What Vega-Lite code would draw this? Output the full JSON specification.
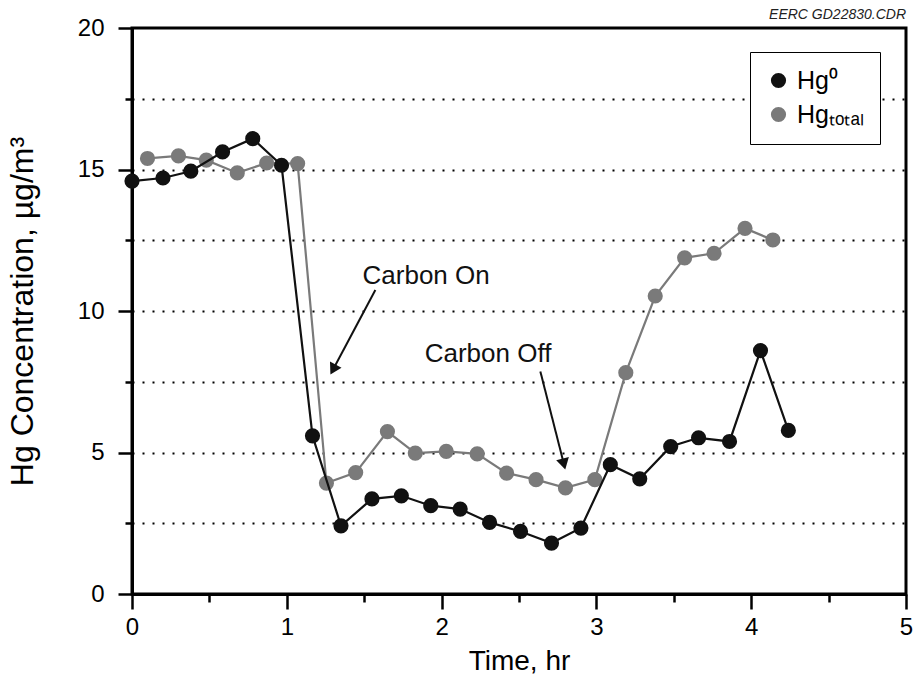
{
  "$schema": "https://vega.github.io/schema/vega-lite/v6.json",
  "autosize": {"type": "none"},
  "width": 774,
  "height": 566,
  "padding": {"left": 132, "top": 28, "right": 11, "bottom": 89},
  "background": "white",
  "title": {"text": "EERC GD22830.CDR", "anchor": "end", "frame": "group", "fontSize": 14, "fontStyle": "italic", "fontWeight": "normal", "font": "Liberation Sans", "color": "#222222", "offset": 6, "dy": 12},
  "config": {
    "font": "Liberation Sans",
    "view": {"stroke": "black", "strokeWidth": 3},
    "axis": {"labelColor": "black", "titleColor": "black", "titleFontWeight": "normal", "domainColor": "black", "domainWidth": 3, "tickColor": "black", "tickWidth": 2.5, "labelFlush": false, "labelOverlap": false}
  },
  "datasets": {
    "hg": [
      {"series": "Hgₜₒₜₐₗ", "t": 0.10, "v": 15.39},
      {"series": "Hgₜₒₜₐₗ", "t": 0.30, "v": 15.48},
      {"series": "Hgₜₒₜₐₗ", "t": 0.48, "v": 15.33},
      {"series": "Hgₜₒₜₐₗ", "t": 0.68, "v": 14.88},
      {"series": "Hgₜₒₜₐₗ", "t": 0.87, "v": 15.23},
      {"series": "Hgₜₒₜₐₗ", "t": 1.07, "v": 15.21},
      {"series": "Hgₜₒₜₐₗ", "t": 1.256, "v": 3.92},
      {"series": "Hgₜₒₜₐₗ", "t": 1.445, "v": 4.29},
      {"series": "Hgₜₒₜₐₗ", "t": 1.65, "v": 5.74},
      {"series": "Hgₜₒₜₐₗ", "t": 1.83, "v": 4.98},
      {"series": "Hgₜₒₜₐₗ", "t": 2.03, "v": 5.04},
      {"series": "Hgₜₒₜₐₗ", "t": 2.23, "v": 4.95},
      {"series": "Hgₜₒₜₐₗ", "t": 2.42, "v": 4.27},
      {"series": "Hgₜₒₜₐₗ", "t": 2.61, "v": 4.04},
      {"series": "Hgₜₒₜₐₗ", "t": 2.80, "v": 3.75},
      {"series": "Hgₜₒₜₐₗ", "t": 2.99, "v": 4.04},
      {"series": "Hgₜₒₜₐₗ", "t": 3.19, "v": 7.82},
      {"series": "Hgₜₒₜₐₗ", "t": 3.38, "v": 10.53},
      {"series": "Hgₜₒₜₐₗ", "t": 3.57, "v": 11.88},
      {"series": "Hgₜₒₜₐₗ", "t": 3.76, "v": 12.04},
      {"series": "Hgₜₒₜₐₗ", "t": 3.96, "v": 12.92},
      {"series": "Hgₜₒₜₐₗ", "t": 4.14, "v": 12.51},
      {"series": "Hg⁰", "t": 0.00, "v": 14.59},
      {"series": "Hg⁰", "t": 0.20, "v": 14.70},
      {"series": "Hg⁰", "t": 0.38, "v": 14.94},
      {"series": "Hg⁰", "t": 0.585, "v": 15.62},
      {"series": "Hg⁰", "t": 0.78, "v": 16.09},
      {"series": "Hg⁰", "t": 0.966, "v": 15.15},
      {"series": "Hg⁰", "t": 1.166, "v": 5.59},
      {"series": "Hg⁰", "t": 1.35, "v": 2.41},
      {"series": "Hg⁰", "t": 1.55, "v": 3.36},
      {"series": "Hg⁰", "t": 1.74, "v": 3.47},
      {"series": "Hg⁰", "t": 1.93, "v": 3.12},
      {"series": "Hg⁰", "t": 2.12, "v": 3.00},
      {"series": "Hg⁰", "t": 2.31, "v": 2.53},
      {"series": "Hg⁰", "t": 2.51, "v": 2.21},
      {"series": "Hg⁰", "t": 2.71, "v": 1.80},
      {"series": "Hg⁰", "t": 2.90, "v": 2.33},
      {"series": "Hg⁰", "t": 3.09, "v": 4.57},
      {"series": "Hg⁰", "t": 3.28, "v": 4.07},
      {"series": "Hg⁰", "t": 3.48, "v": 5.21},
      {"series": "Hg⁰", "t": 3.66, "v": 5.52},
      {"series": "Hg⁰", "t": 3.86, "v": 5.39},
      {"series": "Hg⁰", "t": 4.06, "v": 8.60},
      {"series": "Hg⁰", "t": 4.24, "v": 5.78}
    ]
  },
  "encoding": {
    "x": {
      "field": "t", "type": "quantitative",
      "scale": {"domain": [0, 5], "nice": false, "zero": false},
      "axis": {
        "values": [0, 0.5, 1, 1.5, 2, 2.5, 3, 3.5, 4, 4.5, 5],
        "format": "~g",
        "labelExpr": "datum.value % 1 === 0 ? datum.label : ''",
        "tickSize": {"condition": {"test": "datum.value % 1 === 0", "value": 15}, "value": 8},
        "grid": false,
        "labelFontSize": 24,
        "labelPadding": 6,
        "title": "Time, hr",
        "titleFontSize": 28,
        "titlePadding": 8
      }
    },
    "y": {
      "field": "v", "type": "quantitative",
      "scale": {"domain": [0, 20], "nice": false, "zero": false},
      "axis": {
        "values": [0, 2.5, 5, 7.5, 10, 12.5, 15, 17.5, 20],
        "format": "~g",
        "labelExpr": "datum.value % 5 === 0 ? datum.label : ''",
        "tickSize": {"condition": {"test": "datum.value % 5 === 0", "value": 14}, "value": 7},
        "grid": true,
        "gridColor": "black",
        "gridDash": [2, 8],
        "gridWidth": 2.2,
        "gridOpacity": {"condition": {"test": "datum.value > 0 && datum.value < 20", "value": 1}, "value": 0},
        "labelFontSize": 24,
        "labelPadding": 14,
        "title": "Hg Concentration, µg/m³",
        "titleFontSize": 32,
        "titlePadding": 38
      }
    }
  },
  "layer": [
    {
      "data": {"name": "hg"},
      "transform": [{"filter": "datum.series === 'Hgₜₒₜₐₗ'"}],
      "mark": {"type": "line", "color": "#7a7a7a", "strokeWidth": 2.2}
    },
    {
      "data": {"name": "hg"},
      "transform": [{"filter": "datum.series === 'Hgₜₒₜₐₗ'"}],
      "mark": {"type": "point", "filled": true, "opacity": 1, "size": 230, "shape": "circle"},
      "encoding": {
        "color": {"field": "series", "type": "nominal",
          "scale": {"domain": ["Hg⁰", "Hgₜₒₜₐₗ"], "range": ["#111111", "#7a7a7a"]},
          "legend": {"orient": "none", "legendX": 618, "legendY": 24, "title": null, "direction": "vertical",
            "fillColor": "white", "strokeColor": "black", "padding": 16,
            "labelFontSize": 25, "labelColor": "black", "labelOffset": 6, "symbolSize": 230, "symbolType": "circle",
            "symbolStrokeWidth": 0, "rowPadding": 8, "cornerRadius": 0,
            "encode": {"legend": {"update": {"strokeWidth": {"value": 3}}}}}}
      }
    },
    {
      "data": {"name": "hg"},
      "transform": [{"filter": "datum.series === 'Hg⁰'"}],
      "mark": {"type": "line", "color": "#111111", "strokeWidth": 2.2}
    },
    {
      "data": {"name": "hg"},
      "transform": [{"filter": "datum.series === 'Hg⁰'"}],
      "mark": {"type": "point", "filled": true, "opacity": 1, "size": 230, "shape": "circle"},
      "encoding": {
        "color": {"field": "series", "type": "nominal",
          "scale": {"domain": ["Hg⁰", "Hgₜₒₜₐₗ"], "range": ["#111111", "#7a7a7a"]}}
      }
    },
    {
      "data": {"values": [
        {"t": 1.90, "v": 10.95, "label": "Carbon On"},
        {"t": 2.30, "v": 8.21, "label": "Carbon Off"}
      ]},
      "mark": {"type": "text", "fontSize": 26, "color": "#111111", "align": "center", "baseline": "alphabetic"},
      "encoding": {"text": {"field": "label"}}
    },
    {
      "data": {"values": [
        {"t": 1.572, "v": 10.74, "t2": 1.299, "v2": 7.93},
        {"t": 2.638, "v": 7.86, "t2": 2.790, "v2": 4.59}
      ]},
      "mark": {"type": "rule", "color": "#111111", "strokeWidth": 2},
      "encoding": {"x2": {"field": "t2"}, "y2": {"field": "v2"}}
    },
    {
      "data": {"values": [{"t": 1.299, "v": 7.93}]},
      "mark": {"type": "point", "shape": "triangle-up", "filled": true, "opacity": 1, "color": "#111111", "size": 170, "angle": 208}
    },
    {
      "data": {"values": [{"t": 2.790, "v": 4.59}]},
      "mark": {"type": "point", "shape": "triangle-up", "filled": true, "opacity": 1, "color": "#111111", "size": 170, "angle": 166}
    }
  ]
}
